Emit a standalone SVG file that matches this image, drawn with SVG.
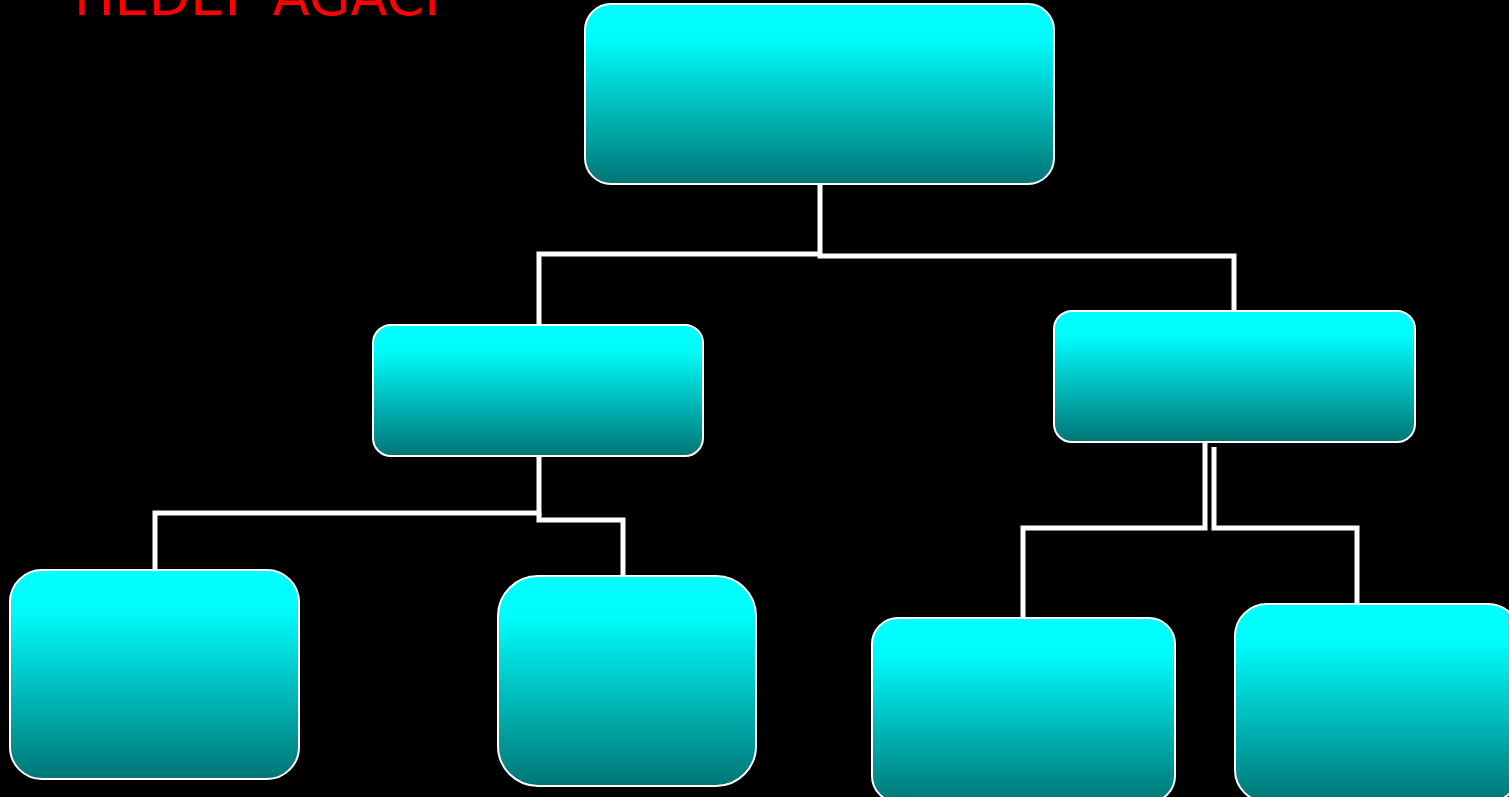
<svg xmlns="http://www.w3.org/2000/svg" width="1509" height="797" viewBox="0 0 1509 797">
<defs>
<linearGradient id="g" x1="0" y1="0" x2="0" y2="1">
<stop offset="0" stop-color="#00ffff"/>
<stop offset="0.2" stop-color="#00fbfb"/>
<stop offset="1" stop-color="#007575"/>
</linearGradient>
<style>
.n{fill:url(#g);stroke:#ffffff;stroke-width:2}
.c{fill:none;stroke:#ffffff;stroke-width:5;stroke-linejoin:miter}
.t{font-family:"DejaVu Sans","Liberation Sans",sans-serif;fill:#ff0000;font-size:54px}
</style>
</defs>
<rect width="1509" height="797" fill="#000000"/>
<text class="t" x="74" y="15">HEDEF AĞACI</text>
<g id="connectors">
<polyline class="c" points="820,184 820,254 539,254 539,325"/>
<polyline class="c" points="820,254 820,256 1234,256 1234,311"/>
<polyline class="c" points="539,456 539,513 155,513 155,570"/>
<polyline class="c" points="539,513 539,520 623,520 623,576"/>
<polyline class="c" points="1205,437 1205,528 1023,528 1023,618"/>
<polyline class="c" points="1214,447 1214,528 1357,528 1357,604"/>
</g>
<g id="n-root"><rect class="n" x="585" y="4" width="469" height="180" rx="26"/></g>
<g id="n-midleft"><rect class="n" x="373" y="325" width="330" height="131" rx="18"/></g>
<g id="n-midright"><rect class="n" x="1054" y="311" width="361" height="131" rx="18"/></g>
<g id="n-bl1"><rect class="n" x="10" y="570" width="289" height="209" rx="32"/></g>
<g id="n-bl2"><rect class="n" x="498" y="576" width="258" height="210" rx="40"/></g>
<g id="n-br1"><rect class="n" x="872" y="618" width="303" height="184" rx="26"/></g>
<g id="n-br2"><rect class="n" x="1235" y="604" width="285" height="198" rx="32"/></g>
</svg>
